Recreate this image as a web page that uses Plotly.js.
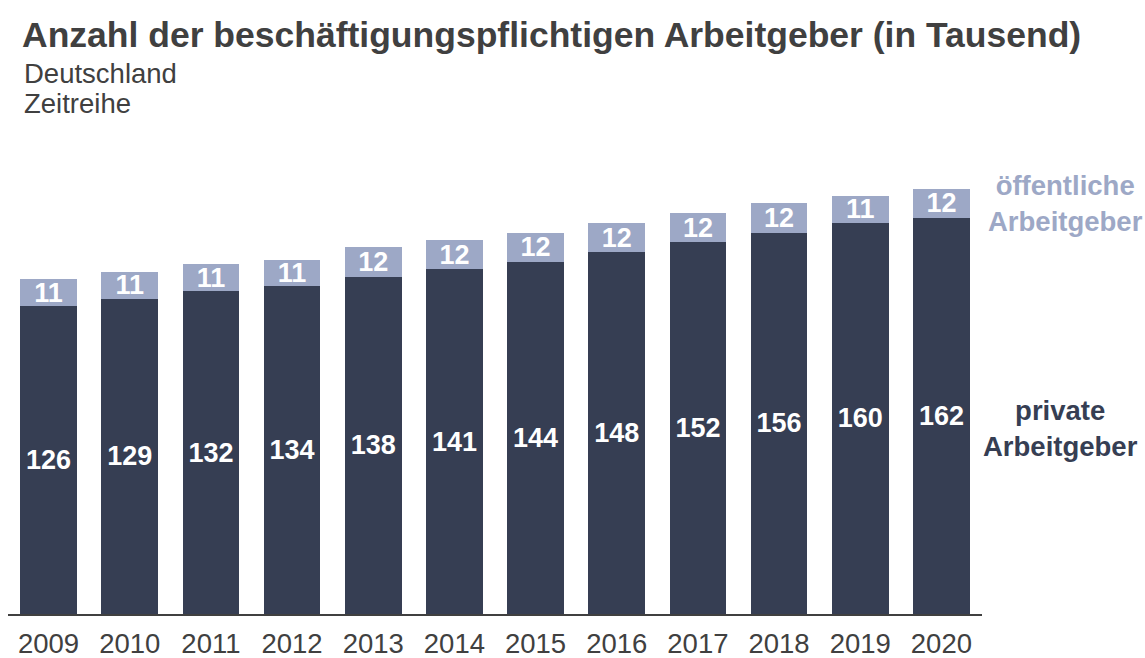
<!DOCTYPE html>
<html>
<head>
<meta charset="utf-8">
<script src="https://cdn.plot.ly/plotly-3.0.1.min.js"></script>
<style>html,body{margin:0;padding:0;background:#fff;}#chart{width:1145px;height:658px;}</style>
</head>
<body>
<div id="chart"></div>
<script>
const years = ['2009','2010','2011','2012','2013','2014','2015','2016','2017','2018','2019','2020'];
const privateEmployers = [126,129,132,134,138,141,144,148,152,156,160,162];
const publicEmployers = [11,11,11,11,12,12,12,12,12,12,11,12];

const titleText = 'Anzahl der beschäftigungspflichtigen Arbeitgeber (in Tausend)';
const subtitle1 = 'Deutschland';
const subtitle2 = 'Zeitreihe';
const labelPublic = 'öffentliche<br>Arbeitgeber';
const labelPrivate = 'private<br>Arbeitgeber';

const FONT = 'Liberation Sans, Arial, sans-serif';
const W = 1145, H = 658;
const mL = 8, mR = 163, mT = 186, mB = 44;
const plotW = W - mL - mR, plotH = H - mT - mB;

const traces = [
  {
    type: 'bar', x: years, y: privateEmployers, name: 'private Arbeitgeber',
    marker: {color: '#363e53'},
    text: privateEmployers.map(String), textposition: 'inside', insidetextanchor: 'middle',
    constraintext: 'none', textangle: 0,
    textfont: {family: FONT, size: 27, color: '#ffffff', weight: 'bold'},
    hoverinfo: 'skip'
  },
  {
    type: 'bar', x: years, y: publicEmployers, name: 'öffentliche Arbeitgeber',
    marker: {color: '#9da8c6'},
    text: publicEmployers.map(String), textposition: 'inside', insidetextanchor: 'middle',
    constraintext: 'none', textangle: 0,
    textfont: {family: FONT, size: 27, color: '#ffffff', weight: 'bold'},
    hoverinfo: 'skip'
  }
];

function px2x(p){ return (p - mL) / plotW; }
function px2y(p){ return (H - mB - p) / plotH; }

const layout = {
  width: W, height: H,
  margin: {l: mL, r: mR, t: mT, b: mB, pad: 0},
  paper_bgcolor: '#ffffff', plot_bgcolor: '#ffffff',
  barmode: 'stack', bargap: 0.3,
  showlegend: false,
  title: {
    text: '<b>' + titleText + '</b>',
    font: {family: FONT, size: 35.5, color: '#404040'},
    xref: 'container', yref: 'container',
    x: 22 / W, xanchor: 'left',
    y: 1 - 35 / H, yanchor: 'middle'
  },
  xaxis: {
    type: 'category', range: [-0.5, 11.5],
    showline: true, linecolor: '#404040', linewidth: 2,
    ticks: '', showgrid: false, zeroline: false,
    ticklabelstandoff: 4,
    tickfont: {family: FONT, size: 27.5, color: '#404040'}
  },
  yaxis: {
    range: [0, 175.1], visible: false, showgrid: false, zeroline: false
  },
  annotations: [
    {text: subtitle1, xref: 'paper', yref: 'paper', x: px2x(22), y: px2y(73), xanchor: 'left', yanchor: 'middle',
     showarrow: false, font: {family: FONT, size: 27.5, color: '#404040'}},
    {text: subtitle2, xref: 'paper', yref: 'paper', x: px2x(22), y: px2y(104), xanchor: 'left', yanchor: 'middle',
     showarrow: false, font: {family: FONT, size: 27.5, color: '#404040'}},
    {text: '<b>' + labelPublic + '</b>', xref: 'paper', yref: 'paper', x: px2x(1065), y: px2y(204),
     xanchor: 'center', yanchor: 'middle', align: 'center',
     showarrow: false, font: {family: FONT, size: 27.5, color: '#9da8c6'}},
    {text: '<b>' + labelPrivate + '</b>', xref: 'paper', yref: 'paper', x: px2x(1060), y: px2y(428),
     xanchor: 'center', yanchor: 'middle', align: 'center',
     showarrow: false, font: {family: FONT, size: 27.5, color: '#363e53'}}
  ]
};

Plotly.newPlot('chart', traces, layout, {displayModeBar: false, staticPlot: true});
</script>
</body>
</html>
